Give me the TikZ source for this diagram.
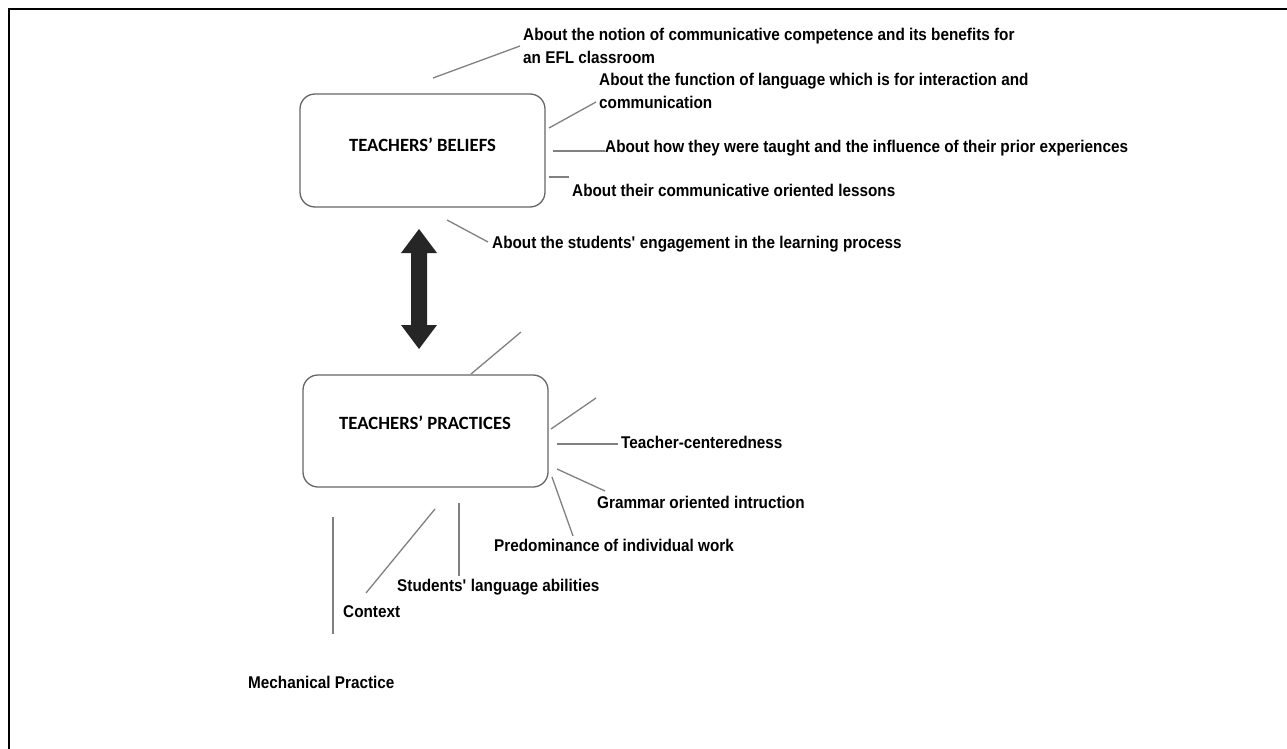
\documentclass[tikz,border=0pt]{standalone}
\usepackage{fontspec}
\setmainfont{Liberation Sans}[FakeStretch=0.90]
\newfontfamily\boxfont{Carlito}
\usetikzlibrary{arrows.meta}
\begin{document}
\begin{tikzpicture}[x=1pt,y=-1pt,
  lbl/.style={anchor=base west,inner sep=0pt,font=\fontsize{17}{23}\selectfont\bfseries,align=left},
  bx/.style={draw=black!60,line width=1.3pt,rounded corners=15pt,minimum width=245pt,inner sep=0pt},
  bt/.style={font=\boxfont\fontsize{18.7}{22}\selectfont\bfseries,inner sep=0pt},
  ln/.style={draw=black!50,line width=1.3pt}]
\useasboundingbox (0,0) rectangle (1287,749);
\draw[line width=2.2pt] (9,749) -- (9,9) -- (1287,9);
% boxes
\node[bx,minimum height=113pt] (bel) at (422.5,150.5) {};
\node[bt] (belt) at (422.5,145) {TEACHERS’ BELIEFS};
\node[bx,minimum height=112pt] (pra) at (425.5,431) {};
\node[bt] (prat) at (425,423) {TEACHERS’ PRACTICES};
% double arrow
\fill[black!85] (419,229) -- (437,253) -- (427,253) -- (427,325) -- (437,325) -- (419,349) -- (401,325) -- (411,325) -- (411,253) -- (401,253) -- cycle;
% belief labels
\node[lbl] (b1) at (523,41) {About the notion of communicative competence and its benefits for};
\node[lbl] (b1b) at (523,64) {an EFL classroom};
\node[lbl] (b2) at (599,86) {About the function of language which is for interaction and};
\node[lbl] (b2b) at (599,109) {communication};
\node[lbl] (b3) at (605,152) {About how they were taught and the influence of their prior experiences};
\node[lbl] (b4) at (572,196) {About their communicative oriented lessons};
\node[lbl] (b5) at (492,248) {About the students\textquotesingle{} engagement in the learning process};
\coordinate (b1s) at (433,78); \coordinate (b1e) at (520,46);
\coordinate (b2s) at (549,128); \coordinate (b2e) at (596,102);
\coordinate (b3s) at (553,151); \coordinate (b3e) at (605,151);
\coordinate (b4s) at (549,177); \coordinate (b4e) at (569,177);
\coordinate (b5s) at (447,220); \coordinate (b5e) at (488,242);
\draw[ln] (b1s) -- (b1e);
\draw[ln] (b2s) -- (b2e);
\draw[ln] (b3s) -- (b3e);
\draw[ln] (b4s) -- (b4e);
\draw[ln] (b5s) -- (b5e);
% practice labels
\node[lbl] (p1) at (621,448) {Teacher-centeredness};
\node[lbl] (p2) at (597,508) {Grammar oriented intruction};
\node[lbl] (p3) at (494,551) {Predominance of individual work};
\node[lbl] (p4) at (397,591) {Students\textquotesingle{} language abilities};
\node[lbl] (p5) at (343,617) {Context};
\node[lbl] (p6) at (248,688) {Mechanical Practice};
\coordinate (q0s) at (471,374); \coordinate (q0e) at (521,332);
\coordinate (qas) at (551,429); \coordinate (qae) at (596,398);
\coordinate (q1s) at (557,444); \coordinate (q1e) at (618,444);
\coordinate (q2s) at (557,469); \coordinate (q2e) at (605,491);
\coordinate (q3s) at (552,477); \coordinate (q3e) at (573,536);
\coordinate (q4s) at (459,503); \coordinate (q4e) at (459,576);
\coordinate (q5s) at (435,509); \coordinate (q5e) at (366,593);
\coordinate (q6s) at (333,517); \coordinate (q6e) at (333,634);
\draw[ln] (q0s) -- (q0e);
\draw[ln] (qas) -- (qae);
\draw[ln] (q1s) -- (q1e);
\draw[ln] (q2s) -- (q2e);
\draw[ln] (q3s) -- (q3e);
\draw[ln] (q4s) -- (q4e);
\draw[ln] (q5s) -- (q5e);
\draw[ln] (q6s) -- (q6e);
\end{tikzpicture}
\end{document}
